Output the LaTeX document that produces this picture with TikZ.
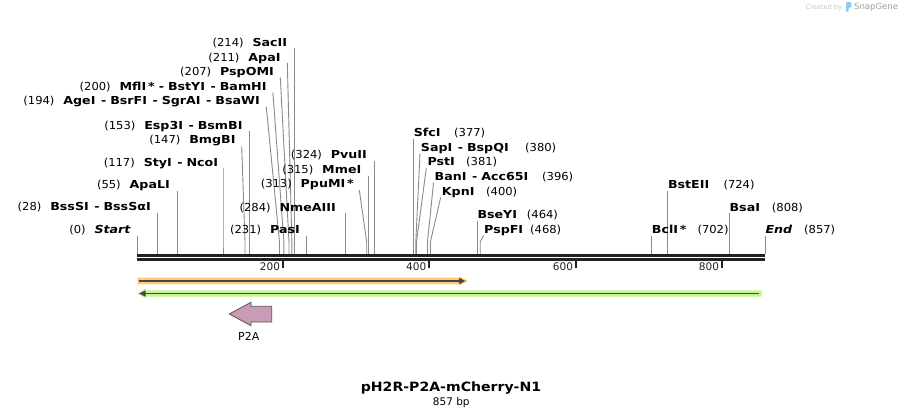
\documentclass[tikz,border=0pt]{standalone}
\usepackage{fontspec}
\setmainfont{DejaVu Sans}
\newfontfamily\plfont{DejaVu Sans}
\newfontfamily\numfont{DejaVu Sans}[FakeStretch=1.05]
\newfontfamily\nmfont{DejaVu Sans}[FakeStretch=1.15]
\newfontfamily\ttlfont{DejaVu Sans}[FakeStretch=1.1]
\definecolor{siteC}{HTML}{8A8A8A}
\definecolor{barC}{HTML}{222222}
\definecolor{orangeC}{HTML}{FDCB7C}
\definecolor{greenC}{HTML}{C3F48F}
\definecolor{darkC}{HTML}{474747}
\definecolor{p2aC}{HTML}{C99BB5}
\definecolor{p2aE}{HTML}{555555}
\definecolor{logoC}{HTML}{8CCBF0}
\newcommand\mysite[4]{%
  \coordinate (a#1) at (#3,#4);
  \coordinate (k#1) at (#2,242);
  \coordinate (b#1) at (#2,254);
  \draw[siteline] (a#1) -- (k#1) -- (b#1);}
% left label: id, name end x, y, number, name
\newcommand\leftlab[5]{%
  \node[naml,anchor=east] (m#1) at (#2,#3) {#5};
  \node[numl,anchor=east] (n#1) at ([xshift=-8.5pt]m#1.west) {#4};}
\newcommand\dsep{\hspace{5.5pt}-\hspace{4pt}}
\begin{document}
\begin{tikzpicture}[x=1pt,y=-1pt,
  siteline/.style={draw=siteC,line width=0.9pt},
  numl/.style={font=\numfont\fontsize{11}{13}\selectfont,inner sep=0pt,text height=7.9pt,text depth=0pt},
  naml/.style={font=\nmfont\bfseries\fontsize{11}{13}\selectfont,inner sep=0pt,text height=7.9pt,text depth=0pt},
  nami/.style={font=\nmfont\bfseries\itshape\fontsize{11}{13}\selectfont,inner sep=0pt,text height=7.9pt,text depth=0pt},
  tickl/.style={font=\plfont\fontsize{10.5}{12}\selectfont,text=barC,inner sep=0pt,text height=7.7pt,text depth=0pt},
  tickline/.style={draw=barC,line width=1.6pt},
  barline/.style={draw=barC,line width=2.7pt},
  darkline/.style={draw=darkC,line width=1.8pt},
  titl/.style={font=\ttlfont\bfseries\fontsize{12.8}{14}\selectfont,inner sep=0pt,text height=9.3pt,text depth=0pt},
  bpl/.style={font=\plfont\fontsize{10.5}{12}\selectfont,inner sep=0pt,text height=7.7pt,text depth=0pt},
  featl/.style={font=\plfont\fontsize{11}{13}\selectfont,inner sep=0pt,text height=8pt,text depth=0pt}
]
\useasboundingbox (0,0) rectangle (903,417);
\fill[white] (0,0) rectangle (903,417);

% ---- site lines ----
\mysite{214}{294.1}{294.1}{48.5}
\mysite{211}{291.9}{287.3}{63}
\mysite{207}{289.0}{280.3}{77.7}
\mysite{200}{283.9}{272.9}{92.3}
\mysite{194}{279.5}{266.3}{107}
\mysite{153}{249.4}{249.4}{131.3}
\mysite{147}{245.0}{241.7}{146.3}
\mysite{117}{223.0}{223.0}{168.3}
\mysite{55}{177.6}{177.6}{191}
\mysite{28}{157.8}{157.8}{213}
\mysite{0}{137.3}{137.3}{235.5}
\mysite{324}{374.7}{374.7}{161}
\mysite{315}{368.1}{368.1}{176}
\mysite{313}{366.7}{359.3}{190}
\mysite{284}{345.4}{345.4}{213.3}
\mysite{231}{306.6}{306.6}{235.5}
\mysite{377}{413.6}{413.6}{138.7}
\mysite{380}{415.8}{420}{153.3}
\mysite{381}{416.5}{426.3}{168}
\mysite{396}{427.5}{433.5}{182.7}
\mysite{400}{430.4}{440.7}{197.3}
\mysite{464}{477.3}{477.3}{221}
\mysite{468}{480.2}{483.5}{235.5}
\mysite{702}{651.7}{651.7}{235.5}
\mysite{724}{667.8}{667.8}{191}
\mysite{808}{729.4}{729.4}{213.3}
\mysite{857}{765.3}{765.3}{235.5}

% ---- left labels ----
\leftlab{214}{287.3}{42.5}{(214)}{SacII}
\leftlab{211}{280.7}{57.1}{(211)}{ApaI}
\leftlab{207}{274}{71.7}{(207)}{PspOMI}
\leftlab{200}{266.7}{86.3}{(200)}{MflI\,*\hspace{4pt}-\hspace{4pt}BstYI\dsep BamHI}
\leftlab{194}{260}{100.9}{(194)}{AgeI\dsep BsrFI\dsep SgrAI\dsep BsaWI}
\leftlab{153}{242.7}{125.3}{(153)}{Esp3I\dsep BsmBI}
\leftlab{147}{235.7}{140}{(147)}{BmgBI}
\leftlab{117}{218.3}{162.3}{(117)}{StyI\dsep NcoI}
\leftlab{55}{170}{185}{(55)}{ApaLI}
\leftlab{28}{151}{207}{(28)}{BssSI\dsep BssSαI}
\node[nami,anchor=east] (m0) at (130.7,229.5) {Start};
\node[numl,anchor=east] (n0) at ([xshift=-8.5pt]m0.west) {(0)};
\leftlab{324}{367}{154.7}{(324)}{PvuII}
\leftlab{315}{361.5}{170}{(315)}{MmeI}
\leftlab{313}{354}{183.3}{(313)}{PpuMI\,*}
\leftlab{284}{336}{207.3}{(284)}{NmeAIII}
\leftlab{231}{300}{229.8}{(231)}{PasI}

% ---- right labels ----
\node[naml,anchor=west] (m377) at (413.6,132.7) {SfcI};
\node[numl,anchor=west] (n377) at (454,132.7) {(377)};
\node[naml,anchor=west] (m380) at (420.7,147.3) {SapI\dsep BspQI};
\node[numl,anchor=west] (n380) at (525,147.3) {(380)};
\node[naml,anchor=west] (m381) at (427.3,162) {PstI};
\node[numl,anchor=west] (n381) at (466,162) {(381)};
\node[naml,anchor=west] (m396) at (434.5,176.7) {BanI\dsep Acc65I};
\node[numl,anchor=west] (n396) at (542,176.7) {(396)};
\node[naml,anchor=west] (m400) at (441.7,191.3) {KpnI};
\node[numl,anchor=west] (n400) at (486,191.3) {(400)};
\node[naml,anchor=west] (m464) at (477.3,215) {BseYI};
\node[numl,anchor=west] (n464) at (526.7,215) {(464)};
\node[naml,anchor=west] (m468) at (484,229.5) {PspFI};
\node[numl,anchor=west] (n468) at (530,229.5) {(468)};
\node[naml,anchor=west] (m724) at (667.8,185) {BstEII};
\node[numl,anchor=west] (n724) at (723.3,185) {(724)};
\node[naml,anchor=west] (m808) at (729.4,207.3) {BsaI};
\node[numl,anchor=west] (n808) at (771.7,207.3) {(808)};
\node[naml,anchor=west] (m702) at (651.7,229.8) {BclI\,*};
\node[numl,anchor=west] (n702) at (697.3,229.8) {(702)};
\node[nami,anchor=west] (m857) at (765.3,229.8) {End};
\node[numl,anchor=west] (n857) at (804,229.8) {(857)};

% ---- sequence bar ----
\coordinate (barTL) at (137.3,255.3);
\coordinate (barTR) at (765.3,255.3);
\coordinate (barBL) at (137.3,259.3);
\coordinate (barBR) at (765.3,259.3);
\draw[barline] (barTL) -- (barTR);
\draw[barline] (barBL) -- (barBR);

% ---- ticks ----
\foreach \v/\xx in {200/283, 400/429.2, 600/576, 800/722}{
  \coordinate (t\v a) at (\xx,259.8);
  \coordinate (t\v b) at (\xx,267.5);
  \draw[tickline] (t\v a) -- (t\v b);
  \node[tickl,anchor=east] (t\v l) at (\xx-2.8,266.7) {\v};
}

% ---- orange feature (forward) ----
\fill[orangeC] (137.3,277.7) -- (459.5,277.7) -- (459.5,276.2) -- (467.7,281)
  -- (459.5,285.8) -- (459.5,284.3) -- (137.3,284.3) -- cycle;
\coordinate (oS) at (139,281);
\coordinate (oE) at (459.6,281);
\draw[darkline] (oS) -- (oE);
\fill[darkC] (459,277.8) -- (465.5,281) -- (459,284.2) -- cycle;

% ---- green feature (reverse) ----
\fill[greenC] (137.3,293.5) -- (145.5,288.7) -- (145.5,290.3) -- (761.7,290.3)
  -- (761.7,296.7) -- (145.5,296.7) -- (145.5,298.3) -- cycle;
\coordinate (gS) at (145,293.5);
\coordinate (gE) at (759.3,293.5);
\draw[darkline] (gS) -- (gE);
\fill[darkC] (145.5,290.3) -- (139.2,293.5) -- (145.5,296.7) -- cycle;

% ---- P2A feature ----
\draw[draw=p2aE,fill=p2aC,line width=0.8pt,line join=miter]
  (229.3,314) -- (251,302.3) -- (251,306.3) -- (271.7,306.3) -- (271.7,322)
  -- (251,322) -- (251,325.7) -- cycle;
\node[featl] (p2al) at (248.7,336) {P2A};

% ---- title ----
\node[titl] (title) at (451,387.3) {pH2R-P2A-mCherry-N1};
\node[bpl] (bp) at (451.3,401.2) {857 bp};

% ---- credit ----
\node[font=\plfont\fontsize{6.6}{8}\selectfont,text=black!22,anchor=west,inner sep=0pt] (cb) at (805.5,7.3) {Created by};
\fill[logoC,rounded corners=0.8pt] (846,2.2) -- (851.3,2.2) -- (851.3,7.6) -- (848.6,7.6) -- (848.6,11.8) -- (846,11.8) -- cycle;
\node[font=\plfont\fontsize{8.5}{10}\selectfont,text=black!38,anchor=west,inner sep=0pt] (sg) at (854,7.3) {SnapGene};
\end{tikzpicture}
\end{document}
